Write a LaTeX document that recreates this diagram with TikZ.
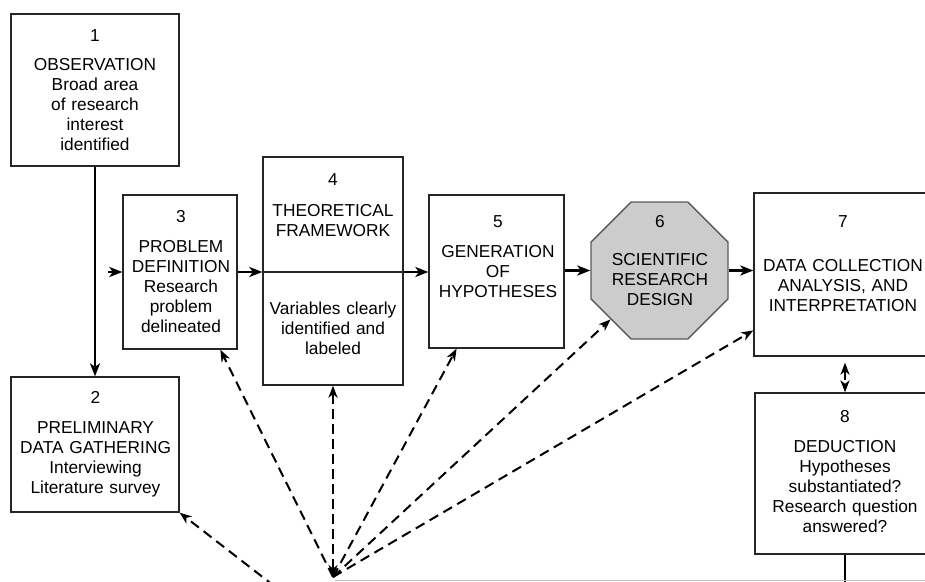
\documentclass[tikz,border=0pt]{standalone}
\usepackage{fontspec}
\setmainfont{Liberation Sans}
\usetikzlibrary{arrows.meta,shapes.geometric,calc}
\begin{document}
\begin{tikzpicture}[x=1pt,y=-1pt,
  box/.style={draw=black!85, line width=1.3pt, inner sep=0pt, fill=white},
  octo/.style={regular polygon, regular polygon sides=8, draw=black!65, line width=1.3pt,
    fill=black!20, inner sep=0pt, minimum size=148.3pt},
  txt/.style={text width=220pt, align=center, inner sep=0pt, anchor=base,
    font=\fontsize{17.3}{20.2}\selectfont},
  arr/.style={line width=2.6pt, -{Stealth[length=13pt,width=10pt,inset=3.5pt]}},
  plain/.style={line width=2.6pt},
  thinline/.style={line width=1.3pt, draw=black!85},
  darr/.style={line width=2pt, dash pattern=on 10pt off 6pt,
    -{Stealth[length=12pt,width=9pt,inset=3.5pt]}},
  dbarr/.style={line width=2.6pt, dash pattern=on 10pt off 5pt,
    {Stealth[length=12pt,width=9pt,inset=3.5pt]}-{Stealth[length=12pt,width=9pt,inset=3.5pt]}},
  fade/.style={line width=0.8pt, draw=black!25}
]
\useasboundingbox (0,0) rectangle (925,581);
\clip (0,0) rectangle (925,581);

% boxes
\node[box, minimum width=168pt, minimum height=152pt] (b1) at (95,90) {};
\node[box, minimum width=168pt, minimum height=135pt] (b2) at (95,444.5) {};
\node[box, minimum width=114pt, minimum height=154pt] (b3) at (180,272) {};
\node[box, minimum width=140pt, minimum height=228pt] (b4) at (333,271) {};
\node[box, minimum width=135pt, minimum height=153pt] (b5) at (496.5,271.5) {};
\node[octo] (b6) at (659.5,270.5) {};
\node[box, minimum width=178pt, minimum height=163pt] (b7) at (843,274.5) {};
\node[box, minimum width=180pt, minimum height=161pt] (b8) at (845,473.5) {};

% texts
\node[txt] (t1) at (95,41) {1\\[8.8pt]OBSERVATION\\Broad area\\of research\\interest\\identified};
\node[txt] (t2) at (95.5,403) {2\\[9.8pt]PRELIMINARY\\DATA GATHERING\\Interviewing\\Literature survey};
\node[txt] (t3) at (181,222) {3\\[9.8pt]PROBLEM\\DEFINITION\\Research\\problem\\delineated};
\node[txt] (t4a) at (333,185) {4\\[10.8pt]THEORETICAL\\FRAMEWORK};
\node[txt] (t4b) at (333,314) {Variables clearly\\identified and\\labeled};
\node[txt] (t5) at (498,227) {5\\[9.8pt]GENERATION\\OF\\HYPOTHESES};
\node[txt] (t6) at (660,227) {6\\[17.8pt]SCIENTIFIC\\RESEARCH\\DESIGN};
\node[txt] (t7) at (843,227) {7\\[23.8pt]DATA COLLECTION\\ANALYSIS, AND\\INTERPRETATION};
\node[txt] (t8) at (845,422) {8\\[9.8pt]DEDUCTION\\Hypotheses\\substantiated?\\Research question\\answered?};

% coordinates
\coordinate (a3) at (108,272);
\coordinate (hub) at (333,577);
\coordinate (src2) at (300,606);
\coordinate (fbk) at (0,600);
\coordinate (gl1) at (335,580);
\coordinate (gl2) at (925,580);

% solid flow
\draw[arr] (b1.south) -- (b2.north);
\draw[arr] (a3) -- (b3.west);
\draw[arr] (b3.east) -- (b3.east -| b4.west);
\draw[thinline] (b3.east -| b4.west) -- (b3.east -| b4.east);
\draw[arr] (b3.east -| b4.east) -- (b3.east -| b5.west);
\draw[arr] (b6.west -| b5.east) -- (b6.west);
\draw[arr] (b6.east) -- (b6.east -| b7.west);
\draw[dbarr, line width=2pt, shorten <=6pt] (b8.north |- b7.south) -- (b8.north);
\draw[plain] (b8.south) -- (b8.south |- fbk);
\draw[fade] (gl1) -- (gl2);

% dashed fan from the hub
\draw[darr] (hub) -- ($(b3.south west)!0.85!(b3.south east)$);
\draw[dbarr] (hub) -- (b4.south);
\draw[darr] (hub) -- ($(b5.south west)!0.207!(b5.south east)$);
\draw[darr] (hub) -- (b6.225);
\draw[darr] (hub) -- ($(b7.north west)!0.84!(b7.south west)$);
\draw[darr] (src2) -- (b2.south east);
\end{tikzpicture}
\end{document}
